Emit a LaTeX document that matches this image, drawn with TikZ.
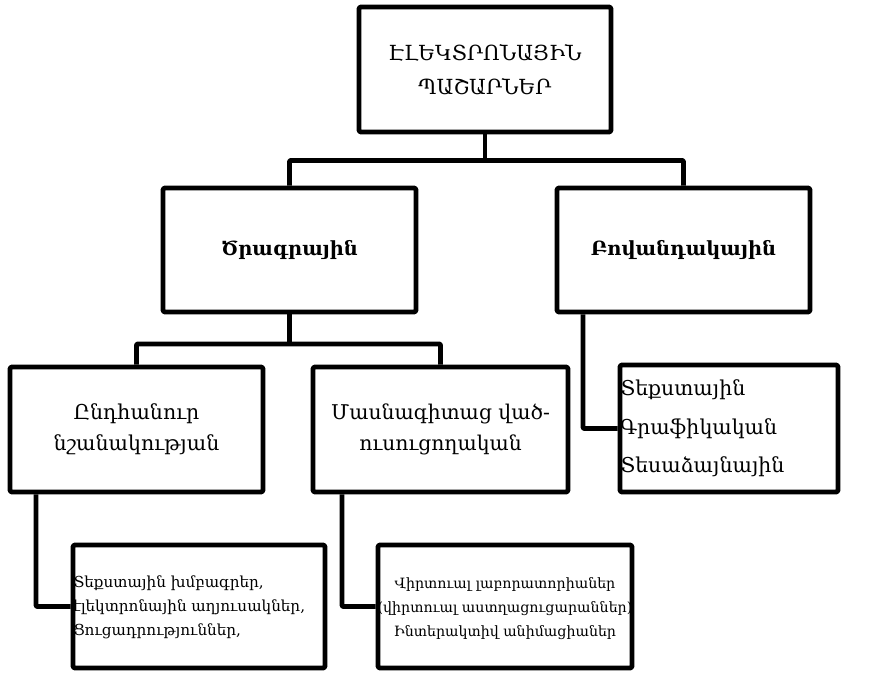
\documentclass[tikz,border=0pt]{standalone}
\usepackage{fontspec}
\setmainfont{DejaVu Serif}
\begin{document}
\begin{tikzpicture}[x=1pt,y=-1pt,
  box/.style={draw=black,line width=4.8pt,line join=round,rounded corners=1.5pt,fill=white,inner sep=0pt,align=center},
  conn/.style={draw=black,line width=4.8pt,line join=round,rounded corners=1pt},
  txt/.style={inner sep=0pt}]
\useasboundingbox (0,0) rectangle (875,673);
% boxes
\node[box,minimum width=252pt,minimum height=125pt,font=\fontsize{20.8}{34}\selectfont] (top) at (485,69.5) {ԷԼԵԿՏՐՈՆԱՅԻՆ\\ՊԱՇԱՐՆԵՐ};
\node[box,minimum width=253pt,minimum height=124pt,font=\fontsize{19.5}{22}\selectfont\bfseries] (prog) at (289.5,250) {Ծրագրային};
\node[box,minimum width=253pt,minimum height=124pt,font=\fontsize{19.5}{22}\selectfont\bfseries] (cont) at (683.5,250) {Բովանդակային};
\node[box,minimum width=253pt,minimum height=125pt,font=\fontsize{20.5}{31}\selectfont] (gen) at (136.5,429.5) {Ընդհանուր\\նշանակության};
\node[box,minimum width=255pt,minimum height=125pt,font=\fontsize{20.3}{31}\selectfont] (spec) at (440.5,429.5) {Մասնագիտաց ված-\\ուսուցողական};
\node[box,minimum width=218pt,minimum height=127pt] (rbox) at (729,428.5) {};
\node[box,minimum width=252pt,minimum height=123pt] (bl) at (199,606.5) {};
\node[box,minimum width=254pt,minimum height=123pt] (bm) at (505,606.5) {};
% texts inside lower boxes
\node[txt,anchor=west,align=left,font=\fontsize{20.5}{38.5}\selectfont] (rtxt) at ([xshift=2.5pt]rbox.west) {Տեքստային\\Գրաֆիկական\\Տեսաձայնային};
\node[txt,anchor=west,align=left,font=\fontsize{15.2}{24}\selectfont] (bltxt) at ([xshift=2.5pt,yshift=-1pt]bl.west) {Տեքստային խմբագրեր,\\էլեկտրոնային աղյուսակներ,\\Ցուցադրություններ,};
\node[txt,align=center,font=\fontsize{14.2}{24}\selectfont] (bmtxt) at ([yshift=-2.5pt]bm.center) {Վիրտուալ լաբորատորիաներ\\(վիրտուալ աստղացուցարաններ)\\Ինտերակտիվ անիմացիաներ};
% connectors
\draw[conn] (top.south) -- ++(0,26) coordinate (j1);
\draw[conn] (prog.north) |- (j1) -| (cont.north);
\draw[conn] (prog.south) -- ++(0,29.5) coordinate (j2);
\draw[conn] (gen.north) |- (j2) -| (spec.north);
\draw[conn] ([xshift=-100.5pt]cont.south) |- (rbox.west);
\draw[conn] ([xshift=-100.5pt]gen.south) |- (bl.west);
\draw[conn] ([xshift=-98.5pt]spec.south) |- (bm.west);
\end{tikzpicture}
\end{document}
